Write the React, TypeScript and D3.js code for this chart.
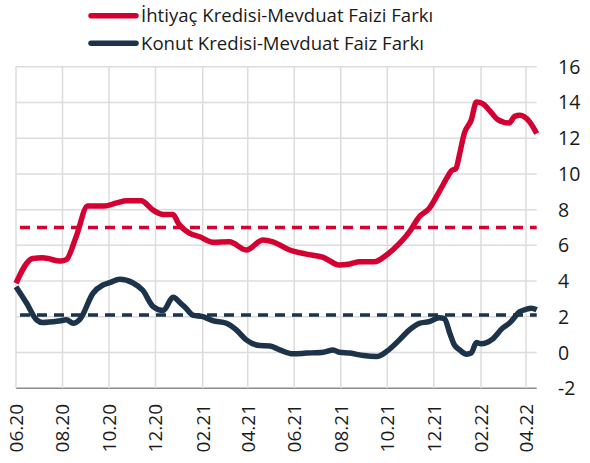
import React from 'react';
import * as d3 from 'd3';

const W = 590;
const H = 463;

const RED = '#d50032';
const NAVY = '#1d3349';

const seriesNames = ['İhtiyaç Kredisi-Mevduat Faizi Farkı', 'Konut Kredisi-Mevduat Faiz Farkı'];

const ihtiyacDates = [
  '2020-06-01', '2020-06-23', '2020-07-06', '2020-07-30', '2020-08-06', '2020-08-19', '2020-09-03',
  '2020-09-25', '2020-10-11', '2020-10-24', '2020-11-12', '2020-11-28', '2020-12-11', '2020-12-24',
  '2020-12-31', '2021-01-15', '2021-01-28', '2021-02-14', '2021-03-08', '2021-03-30', '2021-04-21',
  '2021-05-04', '2021-05-26', '2021-06-17', '2021-07-09', '2021-07-30', '2021-08-13', '2021-08-26',
  '2021-09-14', '2021-09-30', '2021-10-17', '2021-10-30', '2021-11-12', '2021-11-25', '2021-12-08',
  '2021-12-19', '2021-12-24', '2021-12-30', '2022-01-04', '2022-01-10', '2022-01-19', '2022-01-26',
  '2022-02-03', '2022-02-12', '2022-02-23', '2022-03-10', '2022-03-17', '2022-03-24', '2022-04-06',
  '2022-04-15',
];
const ihtiyacValues = [
  3.88, 5.27, 5.3, 5.12, 5.2, 6.5, 8.2,
  8.2, 8.38, 8.5, 8.5, 7.97, 7.73, 7.73,
  7.23, 6.67, 6.48, 6.17, 6.2, 5.74, 6.3,
  6.2, 5.74, 5.51, 5.33, 4.9, 4.96, 5.08,
  5.08, 5.46, 6.11, 6.76, 7.6, 8.07, 9.0,
  9.83, 10.17, 10.3, 11.14, 12.26, 13.0, 14.02,
  13.93, 13.56, 13.04, 12.85, 13.22, 13.28, 12.9,
  12.26,
];

const konutDates = [
  '2020-06-01', '2020-06-15', '2020-06-28', '2020-07-06', '2020-07-28', '2020-08-06', '2020-08-15',
  '2020-08-24', '2020-09-10', '2020-09-23', '2020-10-02', '2020-10-15', '2020-11-01', '2020-11-14',
  '2020-11-28', '2020-12-11', '2020-12-24', '2021-01-02', '2021-01-10', '2021-01-19', '2021-02-01',
  '2021-02-14', '2021-03-04', '2021-03-17', '2021-03-30', '2021-04-17', '2021-04-30', '2021-05-13',
  '2021-05-30', '2021-06-17', '2021-07-09', '2021-07-22', '2021-07-30', '2021-08-13', '2021-08-31',
  '2021-09-17', '2021-09-30', '2021-10-17', '2021-10-30', '2021-11-12', '2021-11-25', '2021-12-08',
  '2021-12-15', '2021-12-22', '2021-12-28', '2022-01-04', '2022-01-13', '2022-01-19', '2022-01-26',
  '2022-02-01', '2022-02-16', '2022-03-01', '2022-03-10', '2022-03-24', '2022-04-01', '2022-04-08',
  '2022-04-15',
];
const konutValues = [
  3.69, 2.76, 1.83, 1.68, 1.77, 1.83, 1.64,
  1.87, 3.32, 3.78, 3.91, 4.1, 3.91, 3.5,
  2.57, 2.35, 3.09, 2.8, 2.48, 2.1, 2.01,
  1.79, 1.64, 1.27, 0.71, 0.39, 0.37, 0.15,
  -0.07, -0.03, 0.02, 0.15, 0.02, -0.03, -0.17,
  -0.22, 0.06, 0.71, 1.27, 1.64, 1.73, 1.95,
  1.9, 1.08, 0.43, 0.15, -0.09, -0.03, 0.56,
  0.49, 0.75, 1.36, 1.64, 2.29, 2.42, 2.48,
  2.39,
];

// long-run averages (dashed)
const ihtiyacAvg = 7.0;
const konutAvg = 2.1;

const xTickLabels = ['06.20', '08.20', '10.20', '12.20', '02.21', '04.21', '06.21', '08.21', '10.21', '12.21', '02.22', '04.22'];
const yTicks = [-2, 0, 2, 4, 6, 8, 10, 12, 14, 16];

const parseDay = d3.timeParse('%Y-%m-%d');
const parseTick = d3.timeParse('%d.%m.%y');

const App = () => {
  const x = d3.scaleTime()
    .domain([parseDay('2020-06-01'), parseDay('2022-04-15')])
    .range([16, 536.7]);
  const y = d3.scaleLinear().domain([-2, 16]).range([388.3, 66.7]);

  const line = d3.line()
    .x((d) => x(d[0]))
    .y((d) => y(d[1]))
    .curve(d3.curveMonotoneX);

  const ihtiyac = ihtiyacDates.map((d, i) => [parseDay(d), ihtiyacValues[i]]);
  const konut = konutDates.map((d, i) => [parseDay(d), konutValues[i]]);

  const font = '"Open Sans", sans-serif';
  const textColor = '#1a1a1a';
  const [x0, x1] = x.range();

  return (
    <svg width={W} height={H} style={{ position: 'absolute', left: 0, top: 0 }} fontFamily={font}>
      {/* grid */}
      {yTicks.map((t) => (
        <line key={'h' + t} x1={x0} x2={x1} y1={y(t)} y2={y(t)}
          stroke={t === -2 ? '#8c8c8c' : '#dcdcdc'} strokeWidth={1.5} />
      ))}
      <line x1={x0} x2={x0} y1={y(16)} y2={y(-2)} stroke="#dcdcdc" strokeWidth={1.5} />
      {xTickLabels.map((l) => {
        const xx = x(parseTick('01.' + l));
        return (
          <g key={l}>
            {l !== '06.20' && (
              <line x1={xx} x2={xx} y1={y(16)} y2={y(-2)} stroke="#dcdcdc" strokeWidth={1.5} />
            )}
            <text transform={`translate(${xx},404) rotate(-90)`} textAnchor="end" dy="0.36em"
              fontSize={19} fill={textColor}>{l}</text>
          </g>
        );
      })}
      {yTicks.map((t) => (
        <text key={'yl' + t} x={558} y={y(t)} dy="0.36em" fontSize={19.5} fill={textColor}>{t}</text>
      ))}

      {/* averages */}
      <line x1={x0 + 4} x2={x1} y1={y(ihtiyacAvg)} y2={y(ihtiyacAvg)} stroke={RED}
        strokeWidth={3.5} strokeDasharray="10 7" />
      <line x1={x0 + 4} x2={x1} y1={y(konutAvg)} y2={y(konutAvg)} stroke={NAVY}
        strokeWidth={3.5} strokeDasharray="10 7" />

      {/* series */}
      <path d={line(konut)} fill="none" stroke={NAVY} strokeWidth={5.5} strokeLinejoin="round" />
      <path d={line(ihtiyac)} fill="none" stroke={RED} strokeWidth={5.5} strokeLinejoin="round" />

      {/* legend */}
      {seriesNames.map((name, i) => (
        <g key={name} transform={`translate(0,${15.7 + i * 27.6})`}>
          <line x1={91} x2={136} y1={0} y2={0} stroke={i === 0 ? RED : NAVY} strokeWidth={5.5}
            strokeLinecap="round" />
          <text x={141} y={0} dy="0.35em" fontSize={18.6} fill={textColor}>{name}</text>
        </g>
      ))}
    </svg>
  );
};

export default App;
